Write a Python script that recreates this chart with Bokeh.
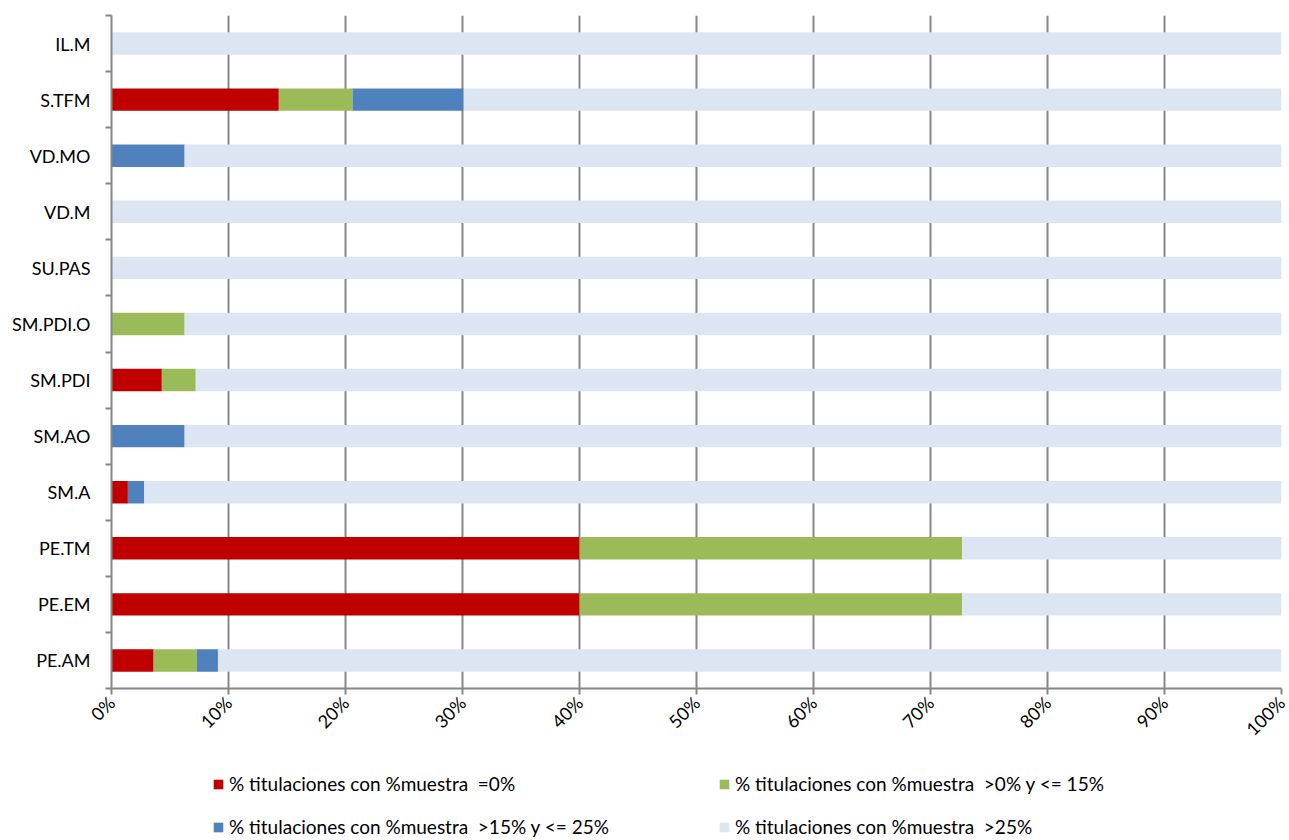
import math
from bokeh.plotting import figure
from bokeh.layouts import column
from bokeh.models import (ColumnDataSource, FixedTicker, Legend, LegendItem,
                          PrintfTickFormatter, Range1d)
from bokeh.embed import file_html
from bokeh.resources import INLINE

categories = ["PE.AM", "PE.EM", "PE.TM", "SM.A", "SM.AO", "SM.PDI",
              "SM.PDI.O", "SU.PAS", "VD.M", "VD.MO", "S.TFM", "IL.M"]
eq0 = [3.6, 40.0, 40.0, 1.4, 0.0, 4.3, 0.0, 0.0, 0.0, 0.0, 14.3, 0.0]
gt0_le15 = [3.7, 32.7, 32.7, 0.0, 0.0, 2.9, 6.25, 0.0, 0.0, 0.0, 6.3, 0.0]
gt15_le25 = [1.8, 0.0, 0.0, 1.4, 6.25, 0.0, 0.0, 0.0, 0.0, 6.25, 9.5, 0.0]
gt25 = [100 - a - b - c for a, b, c in zip(eq0, gt0_le15, gt15_le25)]

series_labels = ["% titulaciones con %muestra  =0%",
                 "% titulaciones con %muestra  >0% y <= 15%",
                 "% titulaciones con %muestra  >15% y <= 25%",
                 "% titulaciones con %muestra  >25%"]
colors = ["#C00000", "#9BBB59", "#4F81BD", "#DCE6F2"]
x_ticks = [0, 10, 20, 30, 40, 50, 60, 70, 80, 90, 100]

ypos = [i + 0.5 for i in range(len(categories))]
source = ColumnDataSource(dict(y=ypos, s0=eq0, s1=gt0_le15, s2=gt15_le25, s3=gt25))
stack_cols = ["s0", "s1", "s2", "s3"]

FONT = "Lato"
W = 1289
p = figure(width=W, height=750, output_backend="svg", toolbar_location=None,
           x_range=Range1d(0, 100), y_range=Range1d(0, len(categories)),
           min_border_left=111, min_border_right=8, min_border_top=15,
           min_border_bottom=62)
p.outline_line_color = None

rends = p.hbar_stack(stack_cols, y="y", height=0.4, color=colors,
                     line_color=None, source=source)

# x axis
p.xaxis.ticker = FixedTicker(ticks=x_ticks)
p.xaxis.formatter = PrintfTickFormatter(format="%d%%")
p.xaxis.major_label_orientation = math.pi / 4
p.xaxis.major_tick_out = 6
p.xaxis.major_tick_in = 0
p.xaxis.minor_tick_out = 0
p.xaxis.minor_tick_in = 0
p.xaxis.major_label_standoff = 5
p.xaxis.axis_line_color = "#868686"
p.xaxis.axis_line_width = 2
p.xaxis.major_tick_line_color = "#868686"
p.xaxis.major_tick_line_width = 2
p.xaxis.major_label_text_font = FONT
p.xaxis.major_label_text_font_size = "18px"
p.xaxis.major_label_text_color = "#000000"

# y axis
p.yaxis.ticker = FixedTicker(ticks=ypos, minor_ticks=list(range(len(categories) + 1)))
p.yaxis.major_label_overrides = {y: c for y, c in zip(ypos, categories)}
p.yaxis.major_tick_out = 0
p.yaxis.major_tick_in = 0
p.yaxis.minor_tick_out = 6
p.yaxis.minor_tick_in = 0
p.yaxis.minor_tick_line_color = "#868686"
p.yaxis.minor_tick_line_width = 2
p.yaxis.major_label_standoff = 15
p.yaxis.axis_line_color = "#868686"
p.yaxis.axis_line_width = 2
p.yaxis.major_label_text_font = FONT
p.yaxis.major_label_text_font_size = "18px"
p.yaxis.major_label_text_color = "#000000"

# grid
p.ygrid.grid_line_color = None
p.xgrid.ticker = FixedTicker(ticks=x_ticks)
p.xgrid.grid_line_color = "#868686"
p.xgrid.grid_line_width = 2

# legend in its own strip below the chart (frame is aligned with the chart frame)
q = figure(width=W, height=90, output_backend="svg", toolbar_location=None,
           x_range=Range1d(0, 100), y_range=Range1d(0, 1),
           x_axis_type=None, y_axis_type=None,
           min_border_left=0, min_border_right=0, min_border_top=0, min_border_bottom=0)
q.outline_line_color = None
q.xgrid.grid_line_color = None
q.ygrid.grid_line_color = None
proxies = q.hbar_stack(stack_cols, y="y", height=0.4, color=colors,
                       line_color=None, source=source)
for r in proxies:
    r.visible = False

legend = Legend(items=[LegendItem(label=l, renderers=[r]) for l, r in zip(series_labels, proxies)],
                orientation="horizontal", ncols=2, location=(101, 2),
                label_width=469, glyph_width=12, glyph_height=12, label_standoff=5,
                spacing=20, label_height=20, padding=0, margin=0,
                border_line_color=None, background_fill_alpha=0,
                inactive_fill_alpha=0,
                label_text_font=FONT, label_text_font_size="19px",
                label_text_color="#000000")
q.add_layout(legend, "center")

layout = column(p, q, spacing=0)
open("out.html", "w").write(file_html(layout, INLINE))
